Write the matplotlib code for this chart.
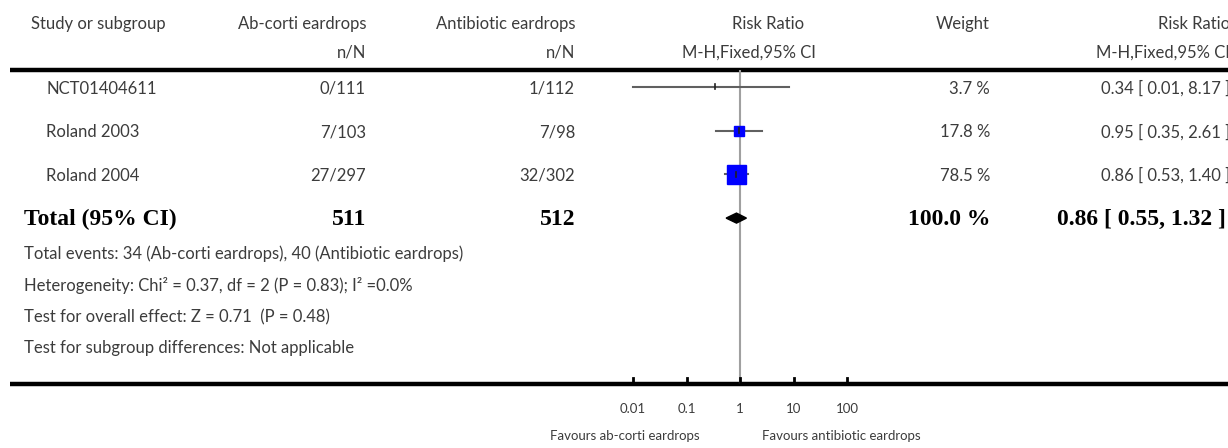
import matplotlib
matplotlib.use("Agg")
import matplotlib.pyplot as plt
import numpy as np

# study rows
studies = ["NCT01404611", "Roland 2003", "Roland 2004"]
ab_corti = ["0/111", "7/103", "27/297"]
antibiotic = ["1/112", "7/98", "32/302"]
weights = [3.7, 17.8, 78.5]
rr = [0.34, 0.95, 0.86]
ci_low = [0.01, 0.35, 0.53]
ci_high = [8.17, 2.61, 1.40]

# pooled result
total_n = [511, 512]
total_rr = 0.86
total_low = 0.55
total_high = 1.32

footnotes = [
    "Total events: 34 (Ab-corti eardrops), 40 (Antibiotic eardrops)",
    "Heterogeneity: Chi² = 0.37, df = 2 (P = 0.83); I² =0.0%",
    "Test for overall effect: Z = 0.71  (P = 0.48)",
    "Test for subgroup differences: Not applicable",
]
tick_vals = [0.01, 0.1, 1, 10, 100]
tick_labels = ["0.01", "0.1", "1", "10", "100"]

W, H = 1228, 448
FONT = ["Lato", "DejaVu Sans"]
SERIF = ["Liberation Serif", "DejaVu Serif"]
TXT = "#3c3c3c"
FS = 12

fig = plt.figure(figsize=(W / 100, H / 100), dpi=100)
tab = fig.add_axes([0, 0, 1, 1])
tab.set_xlim(0, W)
tab.set_ylim(H, 0)
tab.axis("off")


def txt(x, y, s, ha="left", size=FS, bold=False):
    if bold:
        tab.text(x, y, s, ha=ha, va="center", fontsize=size, family=SERIF,
                 fontweight="bold", color="black")
    else:
        tab.text(x, y, s, ha=ha, va="center", fontsize=size, family=FONT,
                 color=TXT)


# column right edges (pixels)
c_ab, c_an, c_w, c_rr = 366, 575, 990, 1230

# header
txt(31, 24, "Study or subgroup")
txt(c_ab, 24, "Ab-corti eardrops", ha="right")
txt(c_an, 24, "Antibiotic eardrops", ha="right")
txt(768, 24, "Risk Ratio", ha="center")
txt(c_w, 24, "Weight", ha="right")
txt(c_rr, 24, "Risk Ratio", ha="right")
txt(c_ab, 53, "n/N", ha="right")
txt(c_an, 53, "n/N", ha="right")
txt(749, 53, "M-H,Fixed,95% CI", ha="center")
txt(c_rr, 53, "M-H,Fixed,95% CI", ha="right")
tab.plot([10, W], [70, 70], color="black", lw=3.2, solid_capstyle="butt")

row0, step = 87, 43.7
for i, name in enumerate(studies):
    y = row0 + i * step
    txt(46, y + 1.5, name)
    txt(c_ab, y + 1.5, ab_corti[i], ha="right")
    txt(c_an, y + 1.5, antibiotic[i], ha="right")
    txt(c_w, y + 1.5, f"{weights[i]:.1f} %", ha="right")
    txt(c_rr, y + 1.5, f"{rr[i]:.2f} [ {ci_low[i]:.2f}, {ci_high[i]:.2f} ]", ha="right")

yt = row0 + 3 * step
txt(24, yt + 1, "Total (95% CI)", size=17, bold=True)
txt(c_ab, yt + 1, str(total_n[0]), ha="right", size=17, bold=True)
txt(c_an, yt + 1, str(total_n[1]), ha="right", size=17, bold=True)
txt(c_w, yt + 1, f"{sum(weights):.1f} %", ha="right", size=17, bold=True)
txt(1226, yt + 1, f"{total_rr:.2f} [ {total_low:.2f}, {total_high:.2f} ]",
    ha="right", size=17, bold=True)

for j, line in enumerate(footnotes):
    txt(24, 254 + j * 31.5, line)

# forest plot panel, log scale, same pixel rows as the table
px_left, px_right = 580, 900
x_one, per_dec = 740, 53.5
lo_lim = 10 ** (-(x_one - px_left) / per_dec)
hi_lim = 10 ** ((px_right - x_one) / per_dec)
top, bottom = 70, 384
fp = fig.add_axes([px_left / W, (H - bottom) / H, (px_right - px_left) / W,
                   (bottom - top) / H])
fp.set_xscale("log")
fp.set_xlim(lo_lim, hi_lim)
fp.set_ylim(bottom, top)
fp.axis("off")
fp.patch.set_alpha(0)

fp.plot([1, 1], [top, bottom], color="#a0a0a0", lw=1.5, zorder=1)
max_sq = 19 * 0.72
for i in range(len(studies)):
    y = row0 + i * step
    fp.plot([ci_low[i], ci_high[i]], [y, y], color="#606060", lw=1.5, zorder=2)
    size = max_sq * np.sqrt(weights[i] / max(weights))
    if size > 4:
        fp.plot(rr[i], y, marker="s", ms=size, color="#0000ff", mec="#0000ff",
                zorder=3)
    fp.plot([rr[i], rr[i]], [y - 2.5, y + 2.5], color="#202020", lw=1.2, zorder=4)

fp.fill([total_low, total_rr, total_high, total_rr],
        [yt, yt - 5, yt, yt + 5], color="black", zorder=3)

# bottom axis
tab.plot([10, W], [bottom, bottom], color="black", lw=3.2, solid_capstyle="butt")
for v, lab in zip(tick_vals, tick_labels):
    fp.plot([v, v], [bottom - 6, bottom], color="black", lw=2, clip_on=False)
    xp = x_one + per_dec * np.log10(v)
    txt(xp, 409, lab, ha="center", size=9.5)
txt(700, 436, "Favours ab-corti eardrops", ha="right", size=9.5)
txt(762, 436, "Favours antibiotic eardrops", ha="left", size=9.5)

fig.savefig("out.png", dpi=100)
